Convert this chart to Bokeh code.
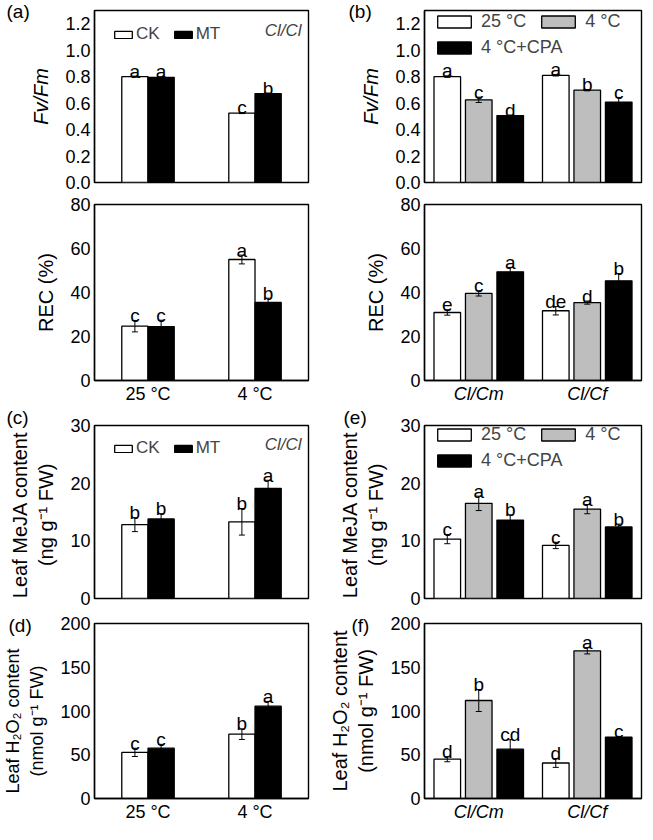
from bokeh.plotting import figure
from bokeh.models import (Range1d, FixedTicker, NumeralTickFormatter, Legend,
                          LegendItem, Label, ColumnDataSource, Title)
from bokeh.layouts import row, column
from bokeh.embed import file_html
from bokeh.resources import INLINE
from bokeh.core.properties import value

FONT = "Liberation Sans"

# ---------------- data ----------------
left_groups = ["25 °C", "4 °C"]
left_series = ["CK", "MT"]
right_groups = ["Cl/Cm", "Cl/Cf"]
right_series = ["25 °C", "4 °C", "4 °C+CPA"]

# (a) Fv/Fm  (Cl/Cl)
a_fvfm_ck = [0.80, 0.525]
a_fvfm_ck_err = [0.004, 0.004]
a_fvfm_ck_sig = ["a", "c"]
a_fvfm_mt = [0.795, 0.672]
a_fvfm_mt_err = [0.004, 0.004]
a_fvfm_mt_sig = ["a", "b"]

# (a) REC (%)
a_rec_ck = [24.7, 55.0]
a_rec_ck_err = [2.6, 2.0]
a_rec_ck_sig = ["c", "a"]
a_rec_mt = [24.5, 35.5]
a_rec_mt_err = [2.9, 1.9]
a_rec_mt_sig = ["c", "b"]

# (b) Fv/Fm
b_fvfm_25 = [0.80, 0.81]
b_fvfm_25_err = [0.005, 0.005]
b_fvfm_25_sig = ["a", "a"]
b_fvfm_4 = [0.625, 0.698]
b_fvfm_4_err = [0.02, 0.005]
b_fvfm_4_sig = ["c", "b"]
b_fvfm_cpa = [0.506, 0.608]
b_fvfm_cpa_err = [0.004, 0.035]
b_fvfm_cpa_sig = ["d", "c"]

# (b) REC (%)
b_rec_25 = [30.9, 31.7]
b_rec_25_err = [1.2, 1.9]
b_rec_25_sig = ["e", "de"]
b_rec_4 = [39.6, 35.4]
b_rec_4_err = [1.2, 0.7]
b_rec_4_sig = ["c", "d"]
b_rec_cpa = [49.4, 45.3]
b_rec_cpa_err = [2.0, 3.3]
b_rec_cpa_sig = ["a", "b"]

# (c) Leaf MeJA
c_ck = [12.8, 13.3]
c_ck_err = [1.2, 2.3]
c_ck_sig = ["b", "b"]
c_mt = [13.8, 19.1]
c_mt_err = [0.9, 1.4]
c_mt_sig = ["b", "a"]

# (e) Leaf MeJA
e_25 = [10.3, 9.2]
e_25_err = [0.8, 0.55]
e_25_sig = ["c", "c"]
e_4 = [16.5, 15.5]
e_4_err = [1.25, 0.8]
e_4_sig = ["a", "a"]
e_cpa = [13.6, 12.4]
e_cpa_err = [0.9, 0.5]
e_cpa_sig = ["b", "b"]

# (d) Leaf H2O2
d_ck = [52.7, 73.5]
d_ck_err = [4.7, 6.0]
d_ck_sig = ["c", "b"]
d_mt = [57.5, 105.5]
d_mt_err = [4.4, 5.5]
d_mt_sig = ["c", "a"]

# (f) Leaf H2O2
f_25 = [44.9, 40.6]
f_25_err = [2.9, 5.0]
f_25_sig = ["d", "d"]
f_4 = [112.0, 168.8]
f_4_err = [12.6, 3.6]
f_4_sig = ["b", "a"]
f_cpa = [56.4, 70.0]
f_cpa_err = [10.8, 1.0]
f_cpa_sig = ["cd", "c"]

fvfm_ticks = [0.0, 0.2, 0.4, 0.6, 0.8, 1.0, 1.2]
rec_ticks = [0, 20, 40, 60, 80]
meja_ticks = [0, 10, 20, 30]
h2o2_ticks = [0, 50, 100, 150, 200]

NB = "\u00a0"
meja_label = "Leaf MeJA content" + NB + "\n(ng g\u207b\u00b9 FW)" + NB
h2o2_label_left = "Leaf H\u2082O\u2082 content" + NB * 4 + "\n(nmol g\u207b\u00b9 FW)" + NB * 4
h2o2_label_right = "Leaf H\u2082O\u2082 content\n(nmol g\u207b\u00b9 FW)"

# ---------------- styling ----------------
LEFT_COLORS = ["#FFFFFF", "#000000"]
RIGHT_COLORS = ["#FFFFFF", "#BEBEBE", "#000000"]
LEFT_OFFSETS = [-0.1225, 0.1225]
RIGHT_OFFSETS = [-0.29, 0.0, 0.29]
BAR_W = 0.245
CAP = 0.028

LEFT_W, LEFT_BL, LEFT_BR = 318, 91, 10
RIGHT_W, RIGHT_BL, RIGHT_BR = 327, 106, 4
# (height, top border, bottom border) for the 4 rows
ROWS = [(193, 10, 11), (213, 11, 23), (203, 18, 11), (215, 14, 23)]
# title standoff per row (panel label placement)
TITLE_STANDOFF = [-23, None, -4, -24]


def frame_h(row_idx):
    h, bt, bb = ROWS[row_idx]
    return h - bt - bb


def make_panel(row_idx, side, series, ymax, ticks, fmt, ylabel, ylabel_size,
               ylabel_italic, groups, show_x, x_italic):
    h, bt, bb = ROWS[row_idx]
    if side == "L":
        w, bl, br, colors, offsets = LEFT_W, LEFT_BL, LEFT_BR, LEFT_COLORS, LEFT_OFFSETS
    else:
        w, bl, br, colors, offsets = RIGHT_W, RIGHT_BL, RIGHT_BR, RIGHT_COLORS, RIGHT_OFFSETS
    p = figure(width=w, height=h, x_range=Range1d(0.5, 2.5), y_range=Range1d(0, ymax),
               output_backend="svg", toolbar_location=None,
               min_border_left=bl, min_border_right=br,
               min_border_top=bt, min_border_bottom=bb)
    p.grid.visible = False
    p.outline_line_color = "black"
    p.outline_line_width = 1.4
    p.outline_line_alpha = 1.0

    renderers = []
    for i, (vals, errs, sig) in enumerate(series):
        xs = [g + 1 + offsets[i] for g in range(len(vals))]
        src = ColumnDataSource(dict(
            x=xs, top=vals,
            up=[v + e for v, e in zip(vals, errs)],
            lo=[v - e for v, e in zip(vals, errs)],
            cl=[x - CAP for x in xs], cr=[x + CAP for x in xs],
            sig=sig))
        r = p.vbar(x="x", top="top", width=BAR_W, source=src,
                   fill_color=colors[i], line_color="black", line_width=1.3)
        renderers.append(r)
        p.segment(x0="x", y0="lo", x1="x", y1="up", source=src,
                  line_color="black", line_width=1)
        p.segment(x0="cl", y0="up", x1="cr", y1="up", source=src,
                  line_color="black", line_width=1)
        p.segment(x0="cl", y0="lo", x1="cr", y1="lo", source=src,
                  line_color="black", line_width=1)
        p.text(x="x", y="up", text="sig", source=src, text_align="center",
               text_baseline="alphabetic", y_offset=-5,
               text_font=value(FONT), text_font_size="19px", text_color="black")

    ya = p.yaxis[0]
    ya.ticker = FixedTicker(ticks=ticks)
    ya.formatter = NumeralTickFormatter(format=fmt)
    ya.major_tick_line_color = None
    ya.major_tick_out = 0
    ya.major_tick_in = 0
    ya.minor_tick_line_color = None
    ya.axis_line_color = "black"
    ya.axis_line_width = 1.4
    ya.major_label_text_font = FONT
    ya.major_label_text_font_size = "18px"
    ya.major_label_text_color = "black"
    ya.major_label_standoff = 4
    ya.axis_label = ylabel
    ya.axis_label_text_font = FONT
    ya.axis_label_text_font_size = ylabel_size
    ya.axis_label_text_font_style = "italic" if ylabel_italic else "normal"
    ya.axis_label_text_color = "black"
    ya.axis_label_standoff = 10

    xa = p.xaxis[0]
    if show_x:
        xa.ticker = FixedTicker(ticks=[1, 2])
        xa.major_label_overrides = {1: groups[0], 2: groups[1]}
        xa.major_tick_line_color = None
        xa.major_tick_out = 0
        xa.major_tick_in = 0
        xa.minor_tick_line_color = None
        xa.axis_line_color = "black"
        xa.axis_line_width = 1.4
        xa.major_label_text_font = FONT
        xa.major_label_text_font_size = "18px"
        xa.major_label_text_color = "black"
        xa.major_label_standoff = 3
        xa.major_label_text_font_style = "italic" if x_italic else "normal"
    else:
        xa.visible = False
    return p, renderers


def panel_title(p, text, offset, row_idx):
    p.add_layout(Title(text=text, align="left", offset=offset,
                       standoff=TITLE_STANDOFF[row_idx],
                       text_font=FONT, text_font_size="19px",
                       text_font_style="normal", text_color="black"), "above")


def left_legend(p, rs, row_idx):
    fh = frame_h(row_idx)
    leg = Legend(items=[LegendItem(label=left_series[0], renderers=[rs[0]]),
                        LegendItem(label=left_series[1], renderers=[rs[1]])],
                 orientation="horizontal", location=(18, fh - 34),
                 glyph_width=22, glyph_height=9, label_standoff=2, spacing=12,
                 label_height=18, padding=0, margin=0,
                 border_line_color=None, background_fill_alpha=0,
                 label_text_font=FONT, label_text_font_size="17px")
    p.add_layout(leg)
    p.add_layout(Label(x=207, y=fh - 20, x_units="screen", y_units="screen",
                       text="Cl/Cl", text_font=FONT, text_font_size="17px",
                       text_font_style="italic", text_align="right",
                       text_baseline="middle"))


def right_legend(p, rs, row_idx, top_gap):
    fh = frame_h(row_idx)
    common = dict(orientation="horizontal", glyph_width=42, glyph_height=15,
                  label_standoff=6, spacing=11, label_height=18, padding=0, margin=0,
                  border_line_color=None, background_fill_alpha=0,
                  label_text_font=FONT, label_text_font_size="18px")
    leg1 = Legend(items=[LegendItem(label=right_series[0], renderers=[rs[0]]),
                         LegendItem(label=right_series[1], renderers=[rs[1]])],
                  location=(9, fh - top_gap - 21), **common)
    leg2 = Legend(items=[LegendItem(label=right_series[2], renderers=[rs[2]])],
                  location=(9, fh - top_gap - 47), **common)
    p.add_layout(leg1)
    p.add_layout(leg2)


# ---------------- left column ----------------
pa, ra = make_panel(0, "L", [(a_fvfm_ck, a_fvfm_ck_err, a_fvfm_ck_sig),
                             (a_fvfm_mt, a_fvfm_mt_err, a_fvfm_mt_sig)],
                    1.3, fvfm_ticks, "0.0", "Fv/Fm", "20px", True, left_groups, False, False)
left_legend(pa, ra, 0)
panel_title(pa, "(a)", -88, 0)

pa2, _ = make_panel(1, "L", [(a_rec_ck, a_rec_ck_err, a_rec_ck_sig),
                             (a_rec_mt, a_rec_mt_err, a_rec_mt_sig)],
                    80, rec_ticks, "0", "REC (%)", "20px", False, left_groups, True, False)

pc, rc = make_panel(2, "L", [(c_ck, c_ck_err, c_ck_sig), (c_mt, c_mt_err, c_mt_sig)],
                    30, meja_ticks, "0", meja_label, "20px",
                    False, left_groups, False, False)
left_legend(pc, rc, 2)
panel_title(pc, "(c)", -88, 2)

pd, _ = make_panel(3, "L", [(d_ck, d_ck_err, d_ck_sig), (d_mt, d_mt_err, d_mt_sig)],
                   200, h2o2_ticks, "0", h2o2_label_left, "18px",
                   False, left_groups, True, False)
panel_title(pd, "(d)", -86, 3)

# ---------------- right column ----------------
pb, rb = make_panel(0, "R", [(b_fvfm_25, b_fvfm_25_err, b_fvfm_25_sig),
                             (b_fvfm_4, b_fvfm_4_err, b_fvfm_4_sig),
                             (b_fvfm_cpa, b_fvfm_cpa_err, b_fvfm_cpa_sig)],
                    1.3, fvfm_ticks, "0.0", "Fv/Fm", "20px", True, right_groups, False, True)
right_legend(pb, rb, 0, 1)
panel_title(pb, "(b)", -76, 0)

pb2, _ = make_panel(1, "R", [(b_rec_25, b_rec_25_err, b_rec_25_sig),
                             (b_rec_4, b_rec_4_err, b_rec_4_sig),
                             (b_rec_cpa, b_rec_cpa_err, b_rec_cpa_sig)],
                    80, rec_ticks, "0", "REC (%)", "20px", False, right_groups, True, True)

pe, re_ = make_panel(2, "R", [(e_25, e_25_err, e_25_sig), (e_4, e_4_err, e_4_sig),
                              (e_cpa, e_cpa_err, e_cpa_sig)],
                     30, meja_ticks, "0", meja_label, "20px",
                     False, right_groups, False, True)
right_legend(pe, re_, 2, 0)
panel_title(pe, "(e)", -81, 2)

pf, _ = make_panel(3, "R", [(f_25, f_25_err, f_25_sig), (f_4, f_4_err, f_4_sig),
                            (f_cpa, f_cpa_err, f_cpa_sig)],
                   200, h2o2_ticks, "0", h2o2_label_right, "20px",
                   False, right_groups, True, True)
panel_title(pf, "(f)", -73, 3)

layout = row(column(pa, pa2, pc, pd), column(pb, pb2, pe, pf))

open("out.html", "w").write(file_html(layout, INLINE))
